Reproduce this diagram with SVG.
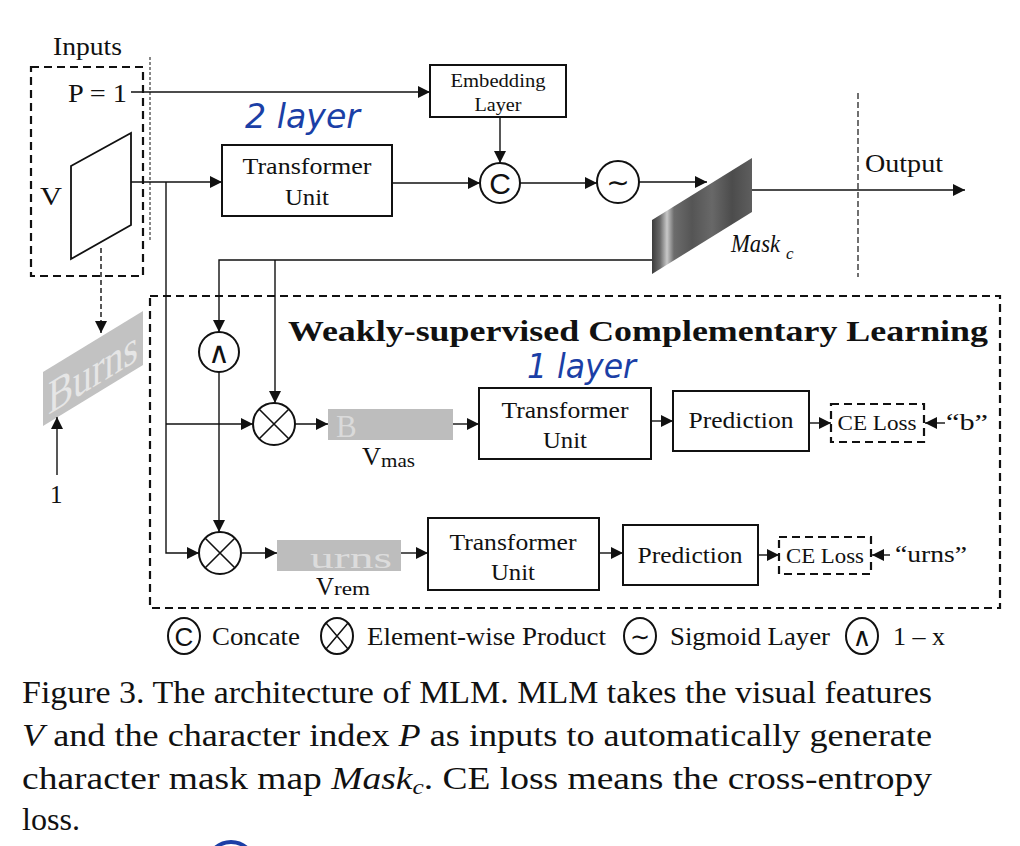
<svg xmlns="http://www.w3.org/2000/svg" width="1020" height="846" viewBox="0 0 1020 846">
<style>
.t{font-family:"Liberation Serif","Times New Roman",serif;fill:#111}
.box{fill:#fff;stroke:#111;stroke-width:2}
.dbox{fill:none;stroke:#111;stroke-width:2.2;stroke-dasharray:8,5}
.ln{fill:none;stroke:#111;stroke-width:1.4}
.op{fill:#fff;stroke:#111;stroke-width:2}
.hw{font-family:"DejaVu Sans",sans-serif;fill:#1b3fa6;font-style:italic}
</style>
<defs>
<marker id="ar" viewBox="0 0 12 12" refX="12" refY="6" markerWidth="12" markerHeight="12" markerUnits="userSpaceOnUse" orient="auto">
<path d="M0,0 L12,6 L0,12 z" fill="#111"/>
</marker>
<linearGradient id="mg" x1="0" y1="0" x2="1" y2="0">
<stop offset="0" stop-color="#3c3c3c"/>
<stop offset="0.08" stop-color="#6a6a6a"/>
<stop offset="0.15" stop-color="#c8c8c8"/>
<stop offset="0.22" stop-color="#6c6c6c"/>
<stop offset="0.4" stop-color="#555"/>
<stop offset="0.6" stop-color="#686868"/>
<stop offset="0.8" stop-color="#4c4c4c"/>
<stop offset="1" stop-color="#5e5e5e"/>
</linearGradient>
</defs>
<rect width="1020" height="846" fill="#fff"/>

<!-- Inputs -->
<g id="inputs">
<text class="t" x="53" y="55" font-size="25" textLength="69" lengthAdjust="spacingAndGlyphs">Inputs</text>
<rect class="dbox" x="31" y="67" width="112" height="209"/>
<text class="t" x="68" y="102" font-size="25" textLength="59" lengthAdjust="spacingAndGlyphs">P = 1</text>
<text class="t" x="40" y="205" font-size="26" textLength="22" lengthAdjust="spacingAndGlyphs">V</text>
<polygon points="71,166 131,133 131,225 71,259" fill="#fff" stroke="#111" stroke-width="1.8"/>
</g>
<line x1="150" y1="57" x2="150" y2="240" stroke="#111" stroke-width="1" stroke-dasharray="3,2"/>
<line x1="858" y1="93" x2="858" y2="277" stroke="#111" stroke-width="1.2" stroke-dasharray="6,3"/>

<!-- Burns image -->
<g id="burns" transform="translate(43,372) skewY(-31.4)">
<rect x="0" y="0" width="100" height="54" fill="#c2c2c2"/>
<text x="5" y="46" font-family="Liberation Serif,serif" font-size="48" fill="#e6e6e6" textLength="90" lengthAdjust="spacingAndGlyphs">Burns</text>
</g>
<text class="t" x="50" y="503" font-size="25">1</text>

<!-- Embedding -->
<g id="embedding">
<rect class="box" x="430" y="65" width="136" height="52"/>
<text class="t" x="498" y="87" font-size="18" text-anchor="middle" textLength="95" lengthAdjust="spacingAndGlyphs">Embedding</text>
<text class="t" x="498" y="111" font-size="18" text-anchor="middle" textLength="47" lengthAdjust="spacingAndGlyphs">Layer</text>
</g>

<!-- Transformer top -->
<g id="transformer1">
<rect class="box" x="222" y="145" width="170" height="71"/>
<text class="t" x="307" y="174" font-size="24" text-anchor="middle" textLength="129" lengthAdjust="spacingAndGlyphs">Transformer</text>
<text class="t" x="307" y="205" font-size="24" text-anchor="middle" textLength="44" lengthAdjust="spacingAndGlyphs">Unit</text>
</g>
<text class="hw" x="245" y="128" font-size="34" textLength="115" lengthAdjust="spacingAndGlyphs">2 layer</text>

<!-- Concat -->
<g id="concat">
<circle class="op" cx="500" cy="183" r="20"/>
<text x="500" y="194" font-family="Liberation Sans,Arial,sans-serif" font-size="30" text-anchor="middle" fill="#111">C</text>
</g>
<!-- Sigmoid -->
<g id="sigmoid">
<circle class="op" cx="618" cy="182" r="21"/>
<text x="618" y="192" font-family="DejaVu Sans,sans-serif" font-size="28" text-anchor="middle" fill="#111">∼</text>
</g>

<!-- Mask -->
<g id="mask">
<polygon points="652,220 752,158 752,212 652,274" fill="url(#mg)"/>
<text class="t" x="731" y="252" font-size="25" font-style="italic" textLength="49" lengthAdjust="spacingAndGlyphs">Mask</text>
<text class="t" x="786" y="259" font-size="17" font-style="italic">c</text>
</g>
<text class="t" x="865" y="172" font-size="26" textLength="78" lengthAdjust="spacingAndGlyphs">Output</text>

<!-- WCL box -->
<g id="wcl">
<rect class="dbox" x="150" y="296" width="850" height="312"/>
<text class="t" x="288" y="341" font-size="30" font-weight="bold" textLength="700" lengthAdjust="spacingAndGlyphs">Weakly-supervised Complementary Learning</text>
</g>

<!-- 1-x -->
<g id="oneminus">
<circle class="op" cx="219" cy="352" r="20"/>
<text x="219" y="363" font-family="DejaVu Sans,sans-serif" font-size="30" text-anchor="middle" fill="#111">∧</text>
</g>

<!-- product mid -->
<g id="prod1">
<circle class="op" cx="274" cy="424" r="21"/>
<path d="M259,409 L289,439 M289,409 L259,439" stroke="#111" stroke-width="1.6"/>
</g>
<!-- product bottom -->
<g id="prod2">
<circle class="op" cx="220" cy="553" r="21"/>
<path d="M205,538 L235,568 M235,538 L205,568" stroke="#111" stroke-width="1.6"/>
</g>

<!-- Vmas -->
<g id="vmas">
<rect x="328" y="409" width="125" height="31" fill="#bdbdbd"/>
<text x="336" y="437" font-family="Liberation Serif,serif" font-size="31" fill="#dadada">B</text>
<text class="t" x="362" y="465" font-size="25" textLength="19" lengthAdjust="spacingAndGlyphs">V</text>
<text class="t" x="381" y="467" font-size="19" textLength="34" lengthAdjust="spacingAndGlyphs">mas</text>
</g>
<!-- Vrem -->
<g id="vrem">
<rect x="277" y="540" width="124" height="31" fill="#bdbdbd"/>
<text x="310" y="568" font-family="Liberation Serif,serif" font-size="30" fill="#dcdcdc" textLength="82" lengthAdjust="spacingAndGlyphs">urns</text>
<text class="t" x="316" y="595" font-size="25" textLength="18" lengthAdjust="spacingAndGlyphs">V</text>
<text class="t" x="334" y="595" font-size="19" textLength="36" lengthAdjust="spacingAndGlyphs">rem</text>
</g>

<!-- Transformer mid -->
<g id="transformer2">
<rect class="box" x="479" y="388" width="172" height="71"/>
<text class="t" x="565" y="418" font-size="24" text-anchor="middle" textLength="127" lengthAdjust="spacingAndGlyphs">Transformer</text>
<text class="t" x="565" y="448" font-size="24" text-anchor="middle" textLength="44" lengthAdjust="spacingAndGlyphs">Unit</text>
</g>
<text class="hw" x="527" y="378" font-size="34" textLength="109" lengthAdjust="spacingAndGlyphs">1 layer</text>

<g id="pred1">
<rect class="box" x="673" y="391" width="136" height="60"/>
<text class="t" x="741" y="428" font-size="24" text-anchor="middle" textLength="105" lengthAdjust="spacingAndGlyphs">Prediction</text>
</g>
<g id="ce1">
<rect class="dbox" x="831" y="404" width="93" height="38" stroke-width="1.8" stroke-dasharray="6,4"/>
<text class="t" x="877" y="430" font-size="21" text-anchor="middle" textLength="79" lengthAdjust="spacingAndGlyphs">CE Loss</text>
</g>
<text class="t" x="946" y="430" font-size="23" textLength="42" lengthAdjust="spacingAndGlyphs">“b”</text>

<!-- Transformer bottom -->
<g id="transformer3">
<rect class="box" x="428" y="518" width="171" height="72"/>
<text class="t" x="513" y="550" font-size="24" text-anchor="middle" textLength="127" lengthAdjust="spacingAndGlyphs">Transformer</text>
<text class="t" x="513" y="580" font-size="24" text-anchor="middle" textLength="44" lengthAdjust="spacingAndGlyphs">Unit</text>
</g>
<g id="pred2">
<rect class="box" x="623" y="525" width="135" height="60"/>
<text class="t" x="690" y="563" font-size="24" text-anchor="middle" textLength="105" lengthAdjust="spacingAndGlyphs">Prediction</text>
</g>
<g id="ce2">
<rect class="dbox" x="779" y="537" width="92" height="37" stroke-width="1.8" stroke-dasharray="6,4"/>
<text class="t" x="825" y="563" font-size="21" text-anchor="middle" textLength="78" lengthAdjust="spacingAndGlyphs">CE Loss</text>
</g>
<text class="t" x="895" y="562" font-size="23" textLength="72" lengthAdjust="spacingAndGlyphs">“urns”</text>

<!-- connectors -->
<g id="connectors" class="ln">
<path class="ln" d="M131,92 H430" marker-end="url(#ar)"/>
<path class="ln" d="M131,182 H222" marker-end="url(#ar)"/>
<path class="ln" d="M166,182 V553 H199" marker-end="url(#ar)"/>
<path class="ln" d="M166,424 H253" marker-end="url(#ar)"/>
<path class="ln" d="M392,183 H480" marker-end="url(#ar)"/>
<path class="ln" d="M500,117 V163" marker-end="url(#ar)"/>
<path class="ln" d="M520,183 H597" marker-end="url(#ar)"/>
<path class="ln" d="M639,182 H707" marker-end="url(#ar)"/>
<path class="ln" d="M752,190 H965" marker-end="url(#ar)"/>
<path class="ln" d="M652,260 H219 V332" marker-end="url(#ar)"/>
<path class="ln" d="M275,260 V403" marker-end="url(#ar)"/>
<path class="ln" d="M219,372 V532" marker-end="url(#ar)"/>
<path class="ln" d="M295,424 H328" marker-end="url(#ar)"/>
<path class="ln" d="M453,424 H479" marker-end="url(#ar)"/>
<path class="ln" d="M651,421 H673" marker-end="url(#ar)"/>
<path class="ln" d="M809,423 H831" marker-end="url(#ar)"/>
<path class="ln" d="M945,423 H925" marker-end="url(#ar)"/>
<path class="ln" d="M241,553 H277" marker-end="url(#ar)"/>
<path class="ln" d="M401,553 H428" marker-end="url(#ar)"/>
<path class="ln" d="M599,553 H623" marker-end="url(#ar)"/>
<path class="ln" d="M758,555 H779" marker-end="url(#ar)"/>
<path class="ln" d="M890,555 H872" marker-end="url(#ar)"/>
<path class="ln" d="M101,248 V333" stroke-dasharray="5,3" marker-end="url(#ar)"/>
<path class="ln" d="M57,475 V417" marker-end="url(#ar)"/>
</g>

<!-- Legend -->
<g id="legend">
<ellipse class="op" cx="184" cy="636" rx="16" ry="18"/>
<text x="184" y="646" font-family="Liberation Sans,Arial,sans-serif" font-size="26" text-anchor="middle" fill="#111">C</text>
<text class="t" x="212" y="645" font-size="25" textLength="88" lengthAdjust="spacingAndGlyphs">Concate</text>
<ellipse class="op" cx="337" cy="636" rx="16" ry="18"/>
<path d="M326,623 L348,649 M348,623 L326,649" stroke="#111" stroke-width="1.5"/>
<text class="t" x="367" y="645" font-size="25" textLength="239" lengthAdjust="spacingAndGlyphs">Element-wise Product</text>
<ellipse class="op" cx="640" cy="636" rx="16" ry="18"/>
<text x="640" y="645" font-family="DejaVu Sans,sans-serif" font-size="24" text-anchor="middle" fill="#111">∼</text>
<text class="t" x="670" y="645" font-size="25" textLength="160" lengthAdjust="spacingAndGlyphs">Sigmoid Layer</text>
<ellipse class="op" cx="862" cy="636" rx="16" ry="18"/>
<text x="862" y="646" font-family="DejaVu Sans,sans-serif" font-size="26" text-anchor="middle" fill="#111">∧</text>
<text class="t" x="893" y="645" font-size="25" textLength="52" lengthAdjust="spacingAndGlyphs">1 – x</text>
</g>

<!-- Caption -->
<g id="caption">
<text class="t" x="22" y="703" font-size="31" textLength="910" lengthAdjust="spacingAndGlyphs">Figure 3. The architecture of MLM. MLM takes the visual features</text>
<text class="t" x="22" y="746" font-size="31" textLength="910" lengthAdjust="spacingAndGlyphs"><tspan font-style="italic">V</tspan> and the character index <tspan font-style="italic">P</tspan> as inputs to automatically generate</text>
<text class="t" x="22" y="789" font-size="31" textLength="910" lengthAdjust="spacingAndGlyphs">character mask map <tspan font-style="italic">Mask</tspan><tspan font-style="italic" font-size="21" dy="5">c</tspan><tspan dy="-5">.  CE loss means the cross-entropy</tspan></text>
<text class="t" x="22" y="830" font-size="31" textLength="58" lengthAdjust="spacingAndGlyphs">loss.</text>
</g>
<circle cx="231" cy="866" r="24" fill="none" stroke="#1b3fa6" stroke-width="4"/>
</svg>
